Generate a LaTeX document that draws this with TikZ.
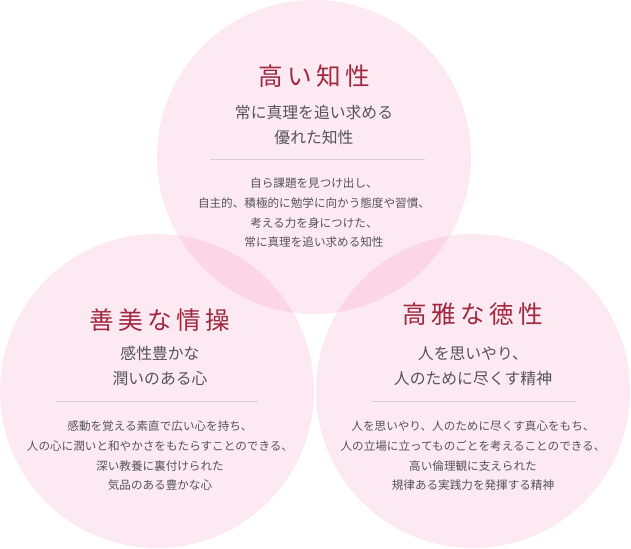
\documentclass[tikz,border=0pt]{standalone}
\usepackage{fontspec}
\setmainfont{Noto Sans CJK JP}
\newfontfamily\ttlfont[LetterSpace=18]{Noto Sans CJK JP}
\definecolor{petal}{RGB}{245,123,175}
\definecolor{wine}{RGB}{160,40,63}
\definecolor{ink}{RGB}{85,85,85}
\definecolor{rule}{RGB}{215,205,210}
\begin{document}
\begin{tikzpicture}[x=0.02cm,y=-0.02cm]
    \tikzstyle{bubble}=[fill=petal,fill opacity=0.17,draw=none]
    \tikzstyle{ttl}=[text=wine,font=\ttlfont\fontsize{14}{16}\selectfont]
    \tikzstyle{sub}=[text=ink,font=\fontsize{9}{14}\selectfont,align=center]
    \tikzstyle{body}=[text=ink,font=\fontsize{6.6}{11.2}\selectfont,align=center]
    \tikzstyle{sep}=[draw=rule,line width=0.4pt]

    \useasboundingbox (0,0) rectangle (631,548);

    \fill[bubble] (314,157) circle (157);
    \fill[bubble] (157,391) circle (157);
    \fill[bubble] (473,391) circle (157);

    % top
    \node[ttl] (t1) at (314,76) {高い知性};
    \node[sub] (s1) at (314,125) {常に真理を追い求める\\優れた知性};
    \draw[sep] (210,159) -- (425,159);
    \node[body] (b1) at (314,213) {自ら課題を見つけ出し、\\自主的、積極的に勉学に向かう態度や習慣、\\考える力を身につけた、\\常に真理を追い求める知性};

    % left
    \node[ttl] (t2) at (160,320) {善美な情操};
    \node[sub] (s2) at (160,366) {感性豊かな\\潤いのある心};
    \draw[sep] (57,401) -- (258,401);
    \node[body] (b2) at (160,456) {感動を覚える素直で広い心を持ち、\\人の心に潤いと和やかさをもたらすことのできる、\\深い教養に裏付けられた\\気品のある豊かな心};

    % right
    \node[ttl] (t3) at (473,314) {高雅な徳性};
    \node[sub] (s3) at (473,366) {人を思いやり、\\人のために尽くす精神};
    \draw[sep] (372,401) -- (575,401);
    \node[body] (b3) at (473,456) {人を思いやり、人のために尽くす真心をもち、\\人の立場に立ってものごとを考えることのできる、\\高い倫理観に支えられた\\規律ある実践力を発揮する精神};
\end{tikzpicture}
\end{document}
